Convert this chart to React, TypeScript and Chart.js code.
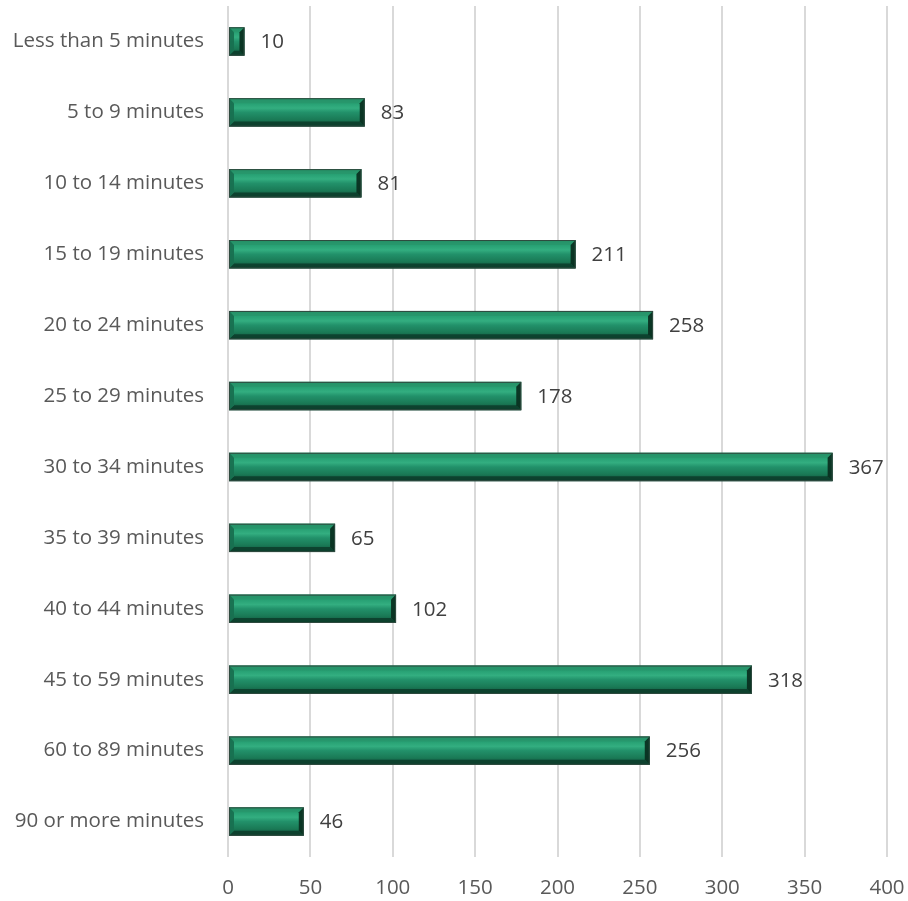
import React, { useEffect, useRef } from "react";
import { Chart, registerables } from "chart.js";

Chart.register(...registerables);

const categories = [
  "Less than 5 minutes",
  "5 to 9 minutes",
  "10 to 14 minutes",
  "15 to 19 minutes",
  "20 to 24 minutes",
  "25 to 29 minutes",
  "30 to 34 minutes",
  "35 to 39 minutes",
  "40 to 44 minutes",
  "45 to 59 minutes",
  "60 to 89 minutes",
  "90 or more minutes",
];
const values = [10, 83, 81, 211, 258, 178, 367, 65, 102, 318, 256, 46];
const xTicks = [0, 50, 100, 150, 200, 250, 300, 350, 400];

const FONT = "'Open Sans', sans-serif";
const FONT_SIZE = 20.5;

const bevelPlugin = {
  id: "bevel",
  afterDatasetsDraw(chart: any) {
    const ctx = chart.ctx;
    const meta = chart.getDatasetMeta(0);
    meta.data.forEach((bar: any, i: number) => {
      const p = bar.getProps(["x", "y", "base", "height"], true);
      const left = p.base;
      const right = p.x;
      const h = p.height;
      const top = p.y - h / 2;
      const bottom = p.y + h / 2;
      const w = right - left;
      const b = Math.min(5, w / 2, h / 2);
      ctx.save();
      const g = ctx.createLinearGradient(0, top, 0, bottom);
      g.addColorStop(0, "#1b7d58");
      g.addColorStop(0.18, "#27a073");
      g.addColorStop(0.35, "#33ae80");
      g.addColorStop(0.5, "#22916a");
      g.addColorStop(0.75, "#1a7a56");
      g.addColorStop(1, "#11503a");
      ctx.fillStyle = g;
      ctx.fillRect(left, top, w, h);
      // top bevel
      ctx.fillStyle = "rgba(40,150,108,0.8)";
      ctx.beginPath();
      ctx.moveTo(left, top);
      ctx.lineTo(right, top);
      ctx.lineTo(right - b, top + b);
      ctx.lineTo(left + b, top + b);
      ctx.closePath();
      ctx.fill();
      // bottom bevel
      ctx.fillStyle = "rgba(12,60,42,0.85)";
      ctx.beginPath();
      ctx.moveTo(left, bottom);
      ctx.lineTo(right, bottom);
      ctx.lineTo(right - b, bottom - b);
      ctx.lineTo(left + b, bottom - b);
      ctx.closePath();
      ctx.fill();
      // left bevel
      ctx.fillStyle = "rgba(24,112,80,0.95)";
      ctx.beginPath();
      ctx.moveTo(left, top);
      ctx.lineTo(left + b, top + b);
      ctx.lineTo(left + b, bottom - b);
      ctx.lineTo(left, bottom);
      ctx.closePath();
      ctx.fill();
      // right bevel
      ctx.fillStyle = "rgba(10,48,33,0.95)";
      ctx.beginPath();
      ctx.moveTo(right, top);
      ctx.lineTo(right - b, top + b);
      ctx.lineTo(right - b, bottom - b);
      ctx.lineTo(right, bottom);
      ctx.closePath();
      ctx.fill();
      ctx.strokeStyle = "#2f4a3f";
      ctx.lineWidth = 1;
      ctx.strokeRect(left + 0.5, top + 0.5, w - 1, h - 1);
      // value label
      ctx.fillStyle = "#404040";
      ctx.font = `${FONT_SIZE}px ${FONT}`;
      ctx.textAlign = "left";
      ctx.textBaseline = "middle";
      ctx.fillText(String(values[i]), right + 16, p.y + 1);
      ctx.restore();
    });
  },
};

export default function App() {
  const ref = useRef<HTMLCanvasElement>(null);
  useEffect(() => {
    document.body.style.margin = "0";
    const chart = new Chart(ref.current!, {
      type: "bar",
      data: {
        labels: categories,
        datasets: [
          {
            data: values,
            backgroundColor: "rgba(0,0,0,0)",
            borderWidth: 0,
            barPercentage: 0.4,
            categoryPercentage: 1,
          },
        ],
      },
      options: {
        indexAxis: "y",
        animation: false,
        responsive: false,
        layout: { padding: { top: 6, right: 21, bottom: 0, left: 0 } },
        plugins: { legend: { display: false }, tooltip: { enabled: false } },
        scales: {
          x: {
            min: 0,
            max: 400,
            afterBuildTicks: (s: any) => {
              s.ticks = xTicks.map((v) => ({ value: v }));
            },
            grid: { color: "#d9d9d9", lineWidth: 2, drawTicks: false },
            border: { display: false },
            ticks: {
              color: "#595959",
              font: { family: FONT, size: FONT_SIZE },
              padding: 19,
            },
            afterFit: (s: any) => {
              s.height = 44;
              s.paddingLeft = 0;
              s.paddingRight = 0;
            },
          },
          y: {
            grid: { display: false, drawTicks: false },
            border: { display: false },
            ticks: {
              color: "#595959",
              font: { family: FONT, size: FONT_SIZE },
              padding: 24,
            },
            afterFit: (s: any) => {
              s.width = 228;
              s.paddingTop = 0;
              s.paddingBottom = 0;
            },
          },
        },
      },
      plugins: [bevelPlugin],
    });
    return () => chart.destroy();
  }, []);
  return <canvas ref={ref} width={908} height={901} style={{ display: "block" }} />;
}
